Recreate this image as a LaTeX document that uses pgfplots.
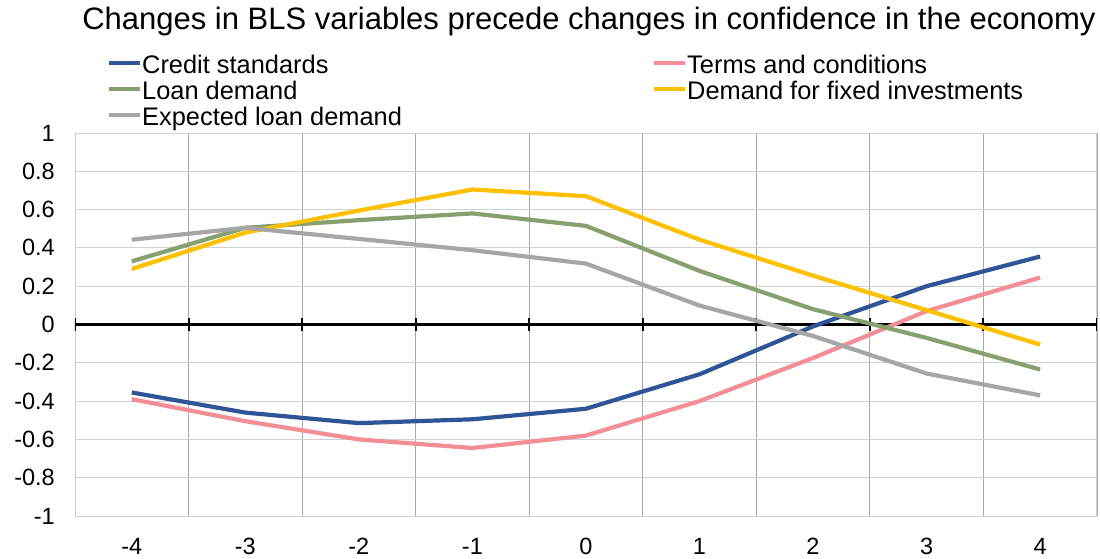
\documentclass[border=0pt]{standalone}
\usepackage{pgfplots}
\pgfplotsset{compat=1.18}
\usepackage{fontspec}
\setmainfont{Liberation Sans}
\definecolor{cblue}{HTML}{2F5597}
\definecolor{cpink}{HTML}{F28E96}
\definecolor{cgreen}{HTML}{86A070}
\definecolor{cyellow}{HTML}{FFC000}
\definecolor{cgray}{HTML}{A6A6A6}
\definecolor{hgrid}{HTML}{D0D0D0}
\definecolor{vgrid}{HTML}{A8A8A8}
\begin{document}
\begin{tikzpicture}
\useasboundingbox (-75pt,-42pt) rectangle (1025pt,516pt);
\begin{axis}[
  at={(0,0)}, anchor=south west,
  scale only axis, width=1022pt, height=383pt,
  xmin=-4.5, xmax=4.5, ymin=-1, ymax=1,
  xtick={-4,-3,-2,-1,0,1,2,3,4},
  xticklabels={-4,-3,-2,-1,0,1,2,3,4},
  minor xtick={-4.5,-3.5,-2.5,-1.5,-0.5,0.5,1.5,2.5,3.5,4.5},
  ytick={-1,-0.8,-0.6,-0.4,-0.2,0,0.2,0.4,0.6,0.8,1},
  yticklabels={-1,-0.8,-0.6,-0.4,-0.2,0,0.2,0.4,0.6,0.8,1},
  major tick length=0pt, minor tick length=0pt,
  ymajorgrids, xminorgrids,
  major grid style={draw=hgrid, line width=0.9pt},
  minor grid style={draw=vgrid, line width=0.7pt},
  axis line style={draw=hgrid, line width=0.9pt},
  tick label style={font=\fontsize{23.5}{28}\selectfont},
  yticklabel style={anchor=east, inner sep=0pt, xshift=-20pt},
  xticklabel style={anchor=north, inner sep=0pt, yshift=-22pt},
  legend columns=2,
  legend cell align=left,
  legend image code/.code={\draw[#1, line width=4.2pt] (0pt,5pt) -- (31pt,5pt);},
  legend style={at={(axis description cs:0.0313,1.2011)}, anchor=north west,
    draw=none, fill=none, inner sep=0pt, outer sep=0pt, row sep=2pt,
    font=\fontsize{25.4}{26}\selectfont,
    nodes={inner sep=0pt, text height=18pt, text depth=6pt},
    /tikz/every odd column/.append style={column sep=0pt},
    /tikz/column 2/.append style={column sep=250pt},
    /tikz/column 3/.append style={column sep=-6pt}},
]
\draw[black, line width=2.5pt] (axis cs:-4.5,0) -- (axis cs:4.5,0);
\pgfplotsinvokeforeach{-4.5,-3.5,-2.5,-1.5,-0.5,0.5,1.5,2.5,3.5,4.5}{
  \draw[black, line width=2pt] (axis cs:#1,0) ++(0pt,-6.5pt) -- ++(0pt,13pt);
}
\addplot[cblue, line width=4.2pt, line join=round] coordinates {
 (-4,-0.355) (-3,-0.46) (-2,-0.515) (-1,-0.495) (0,-0.44) (1,-0.26) (2,-0.01) (3,0.2) (4,0.355)};
\addlegendentry{Credit standards}
\addplot[cpink, line width=4.2pt, line join=round] coordinates {
 (-4,-0.39) (-3,-0.505) (-2,-0.60) (-1,-0.645) (0,-0.58) (1,-0.40) (2,-0.175) (3,0.07) (4,0.245)};
\addlegendentry{Terms and conditions}
\addplot[cgreen, line width=4.2pt, line join=round] coordinates {
 (-4,0.33) (-3,0.505) (-2,0.545) (-1,0.58) (0,0.515) (1,0.28) (2,0.08) (3,-0.07) (4,-0.235)};
\addlegendentry{Loan demand}
\addplot[cyellow, line width=4.2pt, line join=round] coordinates {
 (-4,0.29) (-3,0.48) (-2,0.595) (-1,0.705) (0,0.67) (1,0.443) (2,0.255) (3,0.075) (4,-0.105)};
\addlegendentry{Demand for fixed investments}
\addplot[cgray, line width=4.2pt, line join=round] coordinates {
 (-4,0.443) (-3,0.505) (-2,0.447) (-1,0.388) (0,0.318) (1,0.099) (2,-0.06) (3,-0.256) (4,-0.37)};
\addlegendentry{Expected loan demand}
\end{axis}
\node[anchor=base, font=\fontsize{31}{36}\selectfont] at (514pt,486pt)
  {Changes in BLS variables precede changes in confidence in the economy};
\end{tikzpicture}
\end{document}
